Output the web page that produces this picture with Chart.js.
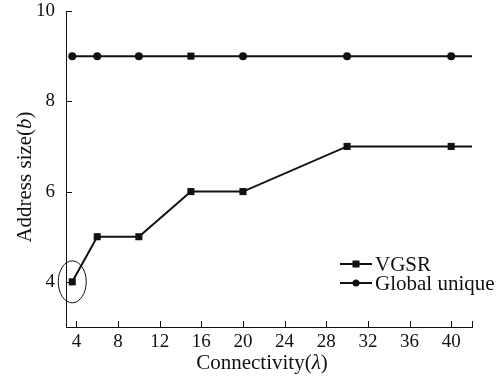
<!DOCTYPE html>
<html>
<head>
<meta charset="utf-8">
<script src="https://cdn.jsdelivr.net/npm/chart.js@4.4.0/dist/chart.umd.min.js"></script>
<style>
  html, body { margin: 0; padding: 0; background: #fff; }
  #wrap { width: 503px; height: 383px; }
</style>
</head>
<body>
<div id="wrap"><canvas id="chartAddr"></canvas></div>
<script>
// values
const connectivity = [3.6, 6, 10, 15, 20, 30, 40];
const vgsr = [4, 5, 5, 6, 6, 7, 7];
const globalUnique = [9, 9, 9, 9, 9, 9, 9];
const globalStyles = ['circle', 'circle', 'circle', 'rect', 'circle', 'circle', 'circle'];
const lineEnd = 42;
const xTickLabels = [4, 8, 12, 16, 20, 24, 28, 32, 36, 40];
const yTickLabels = [4, 6, 8, 10];

const serif = "'Liberation Serif', 'Times New Roman', serif";
const ink = '#111';

function toPoints(xs, ys) {
    const pts = xs.map((x, i) => ({ x: x, y: ys[i] }));
    pts.push({ x: lineEnd, y: ys[ys.length - 1] });  // line runs on to the axis end
    return pts;
}

const extras = {
    id: 'extras',
    afterDraw(chart) {
        const ctx = chart.ctx;
        const xs = chart.scales.x, ys = chart.scales.y;
        const area = chart.chartArea;
        ctx.save();
        ctx.strokeStyle = ink;
        ctx.lineWidth = 1;

        // inward tick marks
        ctx.beginPath();
        xTickLabels.concat([xs.max]).forEach(v => {
            const px = Math.round(xs.getPixelForValue(v)) + 0.5;
            ctx.moveTo(px, area.bottom);
            ctx.lineTo(px, area.bottom - 6);
        });
        yTickLabels.forEach(v => {
            const py = Math.round(ys.getPixelForValue(v)) + 0.5;
            ctx.moveTo(area.left, py);
            ctx.lineTo(area.left + 6, py);
        });
        ctx.stroke();

        // ellipse around first VGSR point
        const cx = xs.getPixelForValue(connectivity[0]);
        const cy = ys.getPixelForValue(vgsr[0]);
        ctx.beginPath();
        ctx.ellipse(cx, cy, 14, 21, 0, 0, Math.PI * 2);
        ctx.stroke();

        // legend
        const rows = [
            { label: 'VGSR', style: 'rect', y: 264 },
            { label: 'Global unique', style: 'circle', y: 283 }
        ];
        rows.forEach(r => {
            ctx.strokeStyle = ink;
            ctx.lineWidth = 2;
            ctx.beginPath();
            ctx.moveTo(340, r.y);
            ctx.lineTo(372, r.y);
            ctx.stroke();
            ctx.fillStyle = ink;
            if (r.style === 'rect') {
                ctx.fillRect(352.5, r.y - 3.5, 7, 7);
            } else {
                ctx.beginPath();
                ctx.arc(356, r.y, 3.5, 0, Math.PI * 2);
                ctx.fill();
            }
            ctx.font = '21px ' + serif;
            ctx.textAlign = 'left';
            ctx.textBaseline = 'middle';
            ctx.fillText(r.label, 375, r.y + 1);
        });

        // axis titles with italic symbols
        function mixed(parts, x, y) {
            let total = 0;
            parts.forEach(p => { ctx.font = p[1] + '21px ' + serif; total += ctx.measureText(p[0]).width; });
            let pos = x - total / 2;
            parts.forEach(p => {
                ctx.font = p[1] + '21px ' + serif;
                ctx.fillText(p[0], pos, y);
                pos += ctx.measureText(p[0]).width;
            });
        }
        ctx.fillStyle = ink;
        ctx.textAlign = 'left';
        ctx.textBaseline = 'middle';
        mixed([['Connectivity(', ''], ['\u03bb', 'italic '], [')', '']], 262, 363);
        ctx.save();
        ctx.translate(25, 177);
        ctx.rotate(-Math.PI / 2);
        mixed([['Address size(', ''], ['b', 'italic '], [')', '']], 0, 0);
        ctx.restore();

        ctx.restore();
    }
};

const ctxAddr = document.getElementById('chartAddr');
const chartAddr = new Chart(ctxAddr, {
    type: 'line',
    data: {
        datasets: [{
            label: 'VGSR',
            data: toPoints(connectivity, vgsr),
            borderColor: ink,
            backgroundColor: ink,
            borderWidth: 2,
            pointStyle: 'rect',
            pointRadius: connectivity.map(() => 5).concat([0]),
            pointBorderWidth: 0,
            tension: 0
        }, {
            label: 'Global unique',
            data: toPoints(connectivity, globalUnique),
            borderColor: ink,
            backgroundColor: ink,
            borderWidth: 2,
            pointStyle: globalStyles.concat(['circle']),
            pointRadius: globalStyles.map(s => s === 'rect' ? 5 : 4).concat([0]),
            pointBorderWidth: 0,
            tension: 0
        }]
    },
    plugins: [extras],
    options: {
        responsive: true,
        maintainAspectRatio: false,
        animation: false,
        layout: { padding: { top: 11, right: 31, left: 0, bottom: 0 } },
        plugins: {
            legend: { display: false },
            tooltip: { enabled: false }
        },
        scales: {
            x: {
                type: 'linear',
                min: 3,
                max: lineEnd,
                afterBuildTicks: s => { s.ticks = xTickLabels.map(v => ({ value: v })); },
                afterFit: s => { s.height = 56; s.paddingLeft = 0; s.paddingRight = 0; },
                grid: { display: false, drawTicks: false },
                border: { display: true, color: ink, width: 1 },
                ticks: {
                    autoSkip: false,
                    maxRotation: 0,
                    padding: 4,
                    color: ink,
                    font: { family: serif, size: 19 }
                }
            },
            y: {
                min: 3,
                max: 10,
                afterBuildTicks: s => { s.ticks = yTickLabels.map(v => ({ value: v })); },
                afterFit: s => { s.width = 66; s.paddingTop = 0; s.paddingBottom = 0; },
                grid: { display: false, drawTicks: false },
                border: { display: true, color: ink, width: 1 },
                ticks: {
                    autoSkip: false,
                    padding: 11,
                    color: ink,
                    font: { family: serif, size: 19 }
                }
            }
        }
    }
});
</script>
</body>
</html>
